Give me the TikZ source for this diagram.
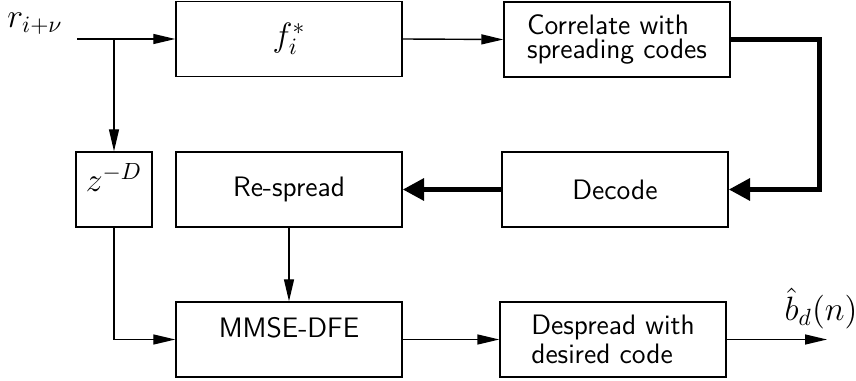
\documentclass[tikz,border=0pt]{standalone}
\usetikzlibrary{arrows.meta}
\begin{document}
\begin{tikzpicture}[x=0.15mm,y=-0.15mm,
    blk/.style={draw,line width=0.6pt,inner sep=0pt,minimum width=33.9mm,
      minimum height=11.25mm,font=\sffamily\large},
    mth/.style={font=\Large},
    arr/.style={line width=0.6pt,-{Triangle[length=3.3mm,width=1.5mm]}},
    fat/.style={line width=2.2pt,-{Triangle[length=3.2mm,width=3.2mm]}}]
  \useasboundingbox (0,0) rectangle (856,381);
  \node[blk,mth] (f) at (289,39) {$f_i^*$};
  \node[blk,align=left,font=\sffamily\fontsize{12}{10.6}\selectfont] (corr) at (617,39.5)
    {Correlate with\\spreading codes};
  \node[blk,mth,minimum width=11.4mm,text depth=3.5mm] (zD) at (114,189.5) {$z^{-D}$};
  \node[blk] (resp) at (289,189.5) {Re-spread};
  \node[blk] (dec) at (615,189.5) {Decode};
  \node[blk,text depth=3.75mm] (mmse) at (289,339.5) {MMSE-DFE};
  \node[blk,align=left,font=\sffamily\fontsize{12}{12.4}\selectfont] (desp) at (613,339.5)
    {Despread with\\desired code};
  \node[mth] (r) at (35,24) {$r_{i+\nu}$};
  \coordinate (in) at (77,39);
  \coordinate (br) at (114,39);
  \coordinate (out) at (827,339.5);
  \node[mth,inner sep=0pt,anchor=south] (bhat) at (821,329) {$\hat{b}_d(n)$};
  % forward path
  \draw[arr] (in) -- (f.west);
  \draw[arr] (f.east) -- (corr.west);
  \draw[arr] (br) -- (zD.north);
  \draw[arr] (zD.south) |- (mmse.west);
  \draw[arr] (resp.south) -- (mmse.north);
  \draw[arr] (mmse.east) -- (desp.west);
  \draw[arr] (desp.east) -- (out);
  % decision feedback
  \draw[fat] (corr.east) -- ++(89,0) |- (dec.east);
  \draw[fat] (dec.west) -- (resp.east);
\end{tikzpicture}
\end{document}
